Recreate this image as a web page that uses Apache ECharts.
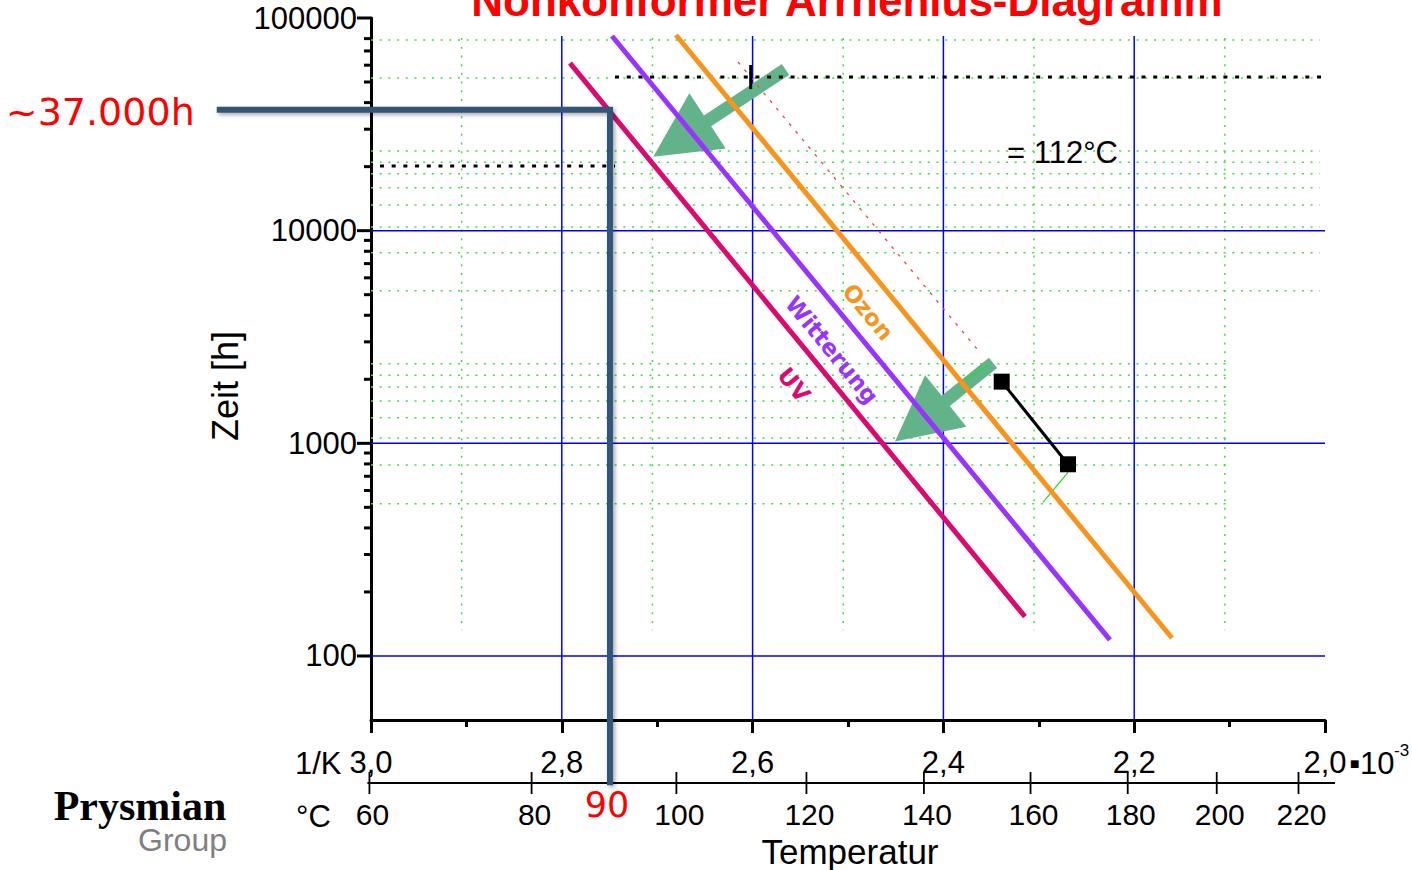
<!DOCTYPE html>
<html><head><meta charset="utf-8">
<script src="https://cdn.jsdelivr.net/npm/echarts@6/dist/echarts.min.js"></script>
<style>html,body{margin:0;padding:0;background:#fff}#c{width:1412px;height:870px}</style>
</head><body><div id="c"></div>
<script>
// ---------------- data (x: 1/K ·10^-3, y: Zeit [h]) ----------------
const seriesNames = ['UV', 'Witterung', 'Ozon'];
const uvLine = [[2.7914, 61400], [2.3145, 153]];
const witterungLine = [[2.7474, 82300], [2.2254, 119]];
const ozonLine = [[2.6803, 83200], [2.1604, 121.5]];
const labelAnchors = [[2.5566, 1883], [2.5168, 2748], [2.479, 4147]];
const timeTicks = [100, 1000, 10000, 100000];
const minorTimeTicks = [200, 300, 400, 500, 600, 700, 800, 900,
  2000, 3000, 4000, 5000, 6000, 7000, 8000, 9000,
  20000, 30000, 40000, 50000, 60000, 70000, 80000];
const celsiusTicks = [60, 80, 100, 120, 140, 160, 180, 200, 220];
const readoutPath = [[3.1617, 37000], [2.7495, 37000], [2.7495, 24.7]];
const hoursLabel = '~37.000h';
const celsiusLabel = '90';
const dottedHigh = [[2.7442, 52800], [1.9895, 52800]];
const dottedLow = [[2.9906, 20140], [2.7442, 20140]];
const markerTick = [[2.602, 60100], [2.602, 46300]];
const redDotted = [[2.6153, 62100], [2.3648, 2779]];
const blackPoints = [[2.3389, 1950], [2.2694, 797]];
const greenLine1 = [[2.2694, 731], [2.2956, 528]];
const greenLine2 = [[2.3774, 1986], [2.3532, 2337]];
const arrows = [[2.5655, 57270, 2.7041, 22280], [2.348, 2388, 2.4507, 1019]];
const noteAnchor = [[2.3333, 23190]];
const noteText = '= 112°C';
const blueGridX = [2.8, 2.6, 2.4, 2.2];
const blueGridY = [100, 1000, 10000];
const greenGridX = [2.905, 2.705, 2.505, 2.305, 2.105];
const greenGridY = [78800, 52200, 23700, 21000, 18500, 15900, 13200, 10400,
  7880, 5220, 2370, 2090, 1840, 1580, 1320, 1060, 790, 520];

// ---------------- chart ----------------
const FS = 'Liberation Sans, Arial, Helvetica, sans-serif';
const FD = 'DejaVu Sans, Verdana, sans-serif';
const lineColors = ['#dc0a6e', '#9933ff', '#f7941d'];
const lineData = [uvLine, witterungLine, ozonLine];

function seg(a, b, style) { return {type: 'line', shape: {x1: a[0], y1: a[1], x2: b[0], y2: b[1]}, style: style}; }
function cs(name, data, renderItem, z) {
  return {type: 'custom', name: name, data: data, renderItem: renderItem, silent: true, clip: false, z: z, animation: false};
}
function ls(name, data, color, width, dash, z, extra) {
  return Object.assign({type: 'line', name: name, data: data, symbol: 'none', silent: true, clip: false, animation: false,
    lineStyle: {color: color, width: width, type: dash || 'solid', cap: 'butt'}, z: z}, extra || {});
}
const greenDot = {stroke: '#3ee03e', lineWidth: 1.5, lineDash: [2, 6.7]};

const series = [];
series.push(cs('gridGreenH', greenGridY.map(v => [3.0, v]), (p, api) => {
  const v = api.value(1);
  return seg(api.coord([3.0, v]), api.coord([v > 2500 ? 2.0055 : 2.1017, v]), greenDot);
}, 1));
series.push(cs('gridGreenV', greenGridX.map(v => [v, 50]), (p, api) => {
  const v = api.value(0);
  return seg(api.coord([v, 80500]), api.coord([v, 132]), greenDot);
}, 1));
series.push(cs('gridBlueV', blueGridX.map(v => [v, 50]), (p, api) => {
  const v = api.value(0);
  return seg(api.coord([v, 82300]), api.coord([v, 50]), {stroke: '#0000ff', lineWidth: 1.5});
}, 1));
series.push(cs('gridBlueH', blueGridY.map(v => [3.0, v]), (p, api) => {
  const v = api.value(1);
  return seg(api.coord([3.0, v]), api.coord([2.0, v]), {stroke: '#0000ff', lineWidth: 1.5});
}, 1));
series.push(cs('arrows', arrows, (p, api) => {
  const t = api.coord([api.value(0), api.value(1)]), h = api.coord([api.value(2), api.value(3)]);
  const dx = h[0] - t[0], dy = h[1] - t[1], L = Math.hypot(dx, dy), ux = dx / L, uy = dy / L, nx = -uy, ny = ux;
  const H = 65, W = 33, s = 6.5;
  const bx = h[0] - ux * H, by = h[1] - uy * H;
  const pts = [[t[0] + nx * s, t[1] + ny * s], [bx + nx * s, by + ny * s], [bx + nx * W, by + ny * W], [h[0], h[1]],
    [bx - nx * W, by - ny * W], [bx - nx * s, by - ny * s], [t[0] - nx * s, t[1] - ny * s]];
  return {type: 'polygon', shape: {points: pts}, style: {fill: '#62b38a'}};
}, 2));
series.push(ls('redDotted', redDotted, '#ff3b3b', 1.3, [3, 7], 2));
series.push(ls('dottedHigh', dottedHigh, '#000', 3, [4, 7.7], 3));
series.push(ls('dottedLow', dottedLow, '#000', 3, [4, 7.7], 3));
series.push(ls('marker', markerTick, '#000', 3, 'solid', 3));
series.push(ls('green1', greenLine1, '#22dd22', 1.2, 'solid', 3));
series.push(ls('green2', greenLine2, '#22dd22', 1.2, 'solid', 3));
series.push(ls('UV', uvLine, lineColors[0], 5, 'solid', 4));
series.push(ls('Witterung', witterungLine, lineColors[1], 5, 'solid', 4));
series.push(ls('Ozon', ozonLine, lineColors[2], 5, 'solid', 4));
series.push({type: 'line', name: 'points', data: blackPoints, symbol: 'rect', symbolSize: 16, silent: true, animation: false,
  itemStyle: {color: '#000'}, lineStyle: {color: '#000', width: 3}, z: 5});
series.push(cs('lineLabels', labelAnchors, (p, api) => {
  const i = p.dataIndex, c = api.coord([api.value(0), api.value(1)]);
  const a = api.coord(lineData[i][0]), b = api.coord(lineData[i][1]);
  const ang = Math.atan2(b[1] - a[1], b[0] - a[0]);
  return {type: 'text', x: c[0], y: c[1], rotation: -ang,
    style: {text: seriesNames[i], fill: lineColors[i], fontSize: 23, fontWeight: 'bold', fontFamily: FD, align: 'center', verticalAlign: 'middle'}};
}, 5));
series.push(cs('note', noteAnchor, (p, api) => {
  const c = api.coord([api.value(0), api.value(1)]);
  return {type: 'text', x: c[0], y: c[1], style: {text: noteText, fill: '#000', fontSize: 31, fontFamily: FS, align: 'left', verticalAlign: 'middle'}};
}, 5));
// readout path (drawn through the axes' scales, allowed to leave the plot area)
series.push(cs('readout', [readoutPath[0]], (p, api) => {
  const pts = readoutPath.map(d => api.coord(d));
  return {type: 'polyline', shape: {points: pts},
    style: {stroke: '#31557a', lineWidth: 6, fill: null, lineJoin: 'miter', lineCap: 'butt',
      shadowBlur: 4, shadowColor: 'rgba(0,0,0,0.35)', shadowOffsetX: 2, shadowOffsetY: 2}};
}, 7));
series.push(cs('readoutLabels', [readoutPath[0], readoutPath[2]], (p, api) => {
  const c = api.coord([api.value(0), api.value(1)]);
  if (p.dataIndex === 0) return {type: 'text', x: c[0] - 22, y: c[1] + 2,
    style: {text: hoursLabel, fill: '#ff0000', fontSize: 38, fontFamily: FD, align: 'right', verticalAlign: 'middle'}};
  return {type: 'text', x: c[0] - 3, y: c[1] + 20,
    style: {text: celsiusLabel, fill: '#ff0000', fontSize: 35, fontFamily: FD, align: 'center', verticalAlign: 'middle'}};
}, 8));
series.push(cs('yMajorTicks', timeTicks.map(v => [3.0, v]), (p, api) => {
  const c = api.coord([3.0, api.value(1)]);
  return seg([c[0] - 14, c[1]], [c[0], c[1]], {stroke: '#000', lineWidth: 3});
}, 6));
series.push(cs('yMinorTicks', minorTimeTicks.map(v => [3.0, v]), (p, api) => {
  const c = api.coord([3.0, api.value(1)]);
  return seg([c[0] - 7, c[1]], [c[0], c[1]], {stroke: '#000', lineWidth: 3});
}, 6));
series.push(cs('celsiusAxis', celsiusTicks.map(t => [1000 / (t + 273.15), 50]), (p, api) => {
  const c = api.coord([api.value(0), 50]);
  const base = c[1] + 63;
  const kids = [seg([c[0], base - 11], [c[0], base + 11], {stroke: '#000', lineWidth: 1.8}),
    {type: 'text', x: c[0] + 3, y: base + 31,
      style: {text: String(celsiusTicks[p.dataIndex]), fill: '#000', fontSize: 30, fontFamily: FS, align: 'center', verticalAlign: 'middle'}}];
  if (p.dataIndex === 0) {
    const r = api.coord([2.0, 50]);
    kids.push(seg([c[0] - 2, base], [r[0] + 10, base], {stroke: '#000', lineWidth: 2}));
  }
  return {type: 'group', children: kids};
}, 6));

const option = {
  animation: false,
  backgroundColor: '#fff',
  grid: {left: 371, right: 87, top: 18, bottom: 150, containLabel: false},
  xAxis: {
    type: 'value', min: 2.0, max: 3.0, interval: 0.2, inverse: true, position: 'bottom',
    axisLine: {show: true, onZero: false, lineStyle: {color: '#000', width: 3}},
    axisTick: {show: true, length: 13, lineStyle: {color: '#000', width: 3}},
    minorTick: {show: true, splitNumber: 2, length: 7, lineStyle: {color: '#000', width: 3}},
    axisLabel: {margin: 42, verticalAlign: 'middle', fontSize: 31, color: '#000', fontFamily: FS,
      formatter: v => v.toFixed(1).replace('.', ',')},
    splitLine: {show: false}, minorSplitLine: {show: false}
  },
  yAxis: {
    type: 'log', logBase: 10, min: 50, max: 100000,
    axisLine: {show: true, onZero: false, lineStyle: {color: '#000', width: 3}},
    axisTick: {show: false}, splitLine: {show: false}, minorTick: {show: false},
    axisLabel: {margin: 14, fontSize: 31, color: '#000', fontFamily: FS,
      formatter: v => v >= 100 ? String(Math.round(v)) : ''}
  },
  graphic: [
    {type: 'text', x: 847, y: 0, style: {text: 'Nonkonformer Arrhenius-Diagramm', fill: '#ff0000', fontSize: 44, fontWeight: 'bold', fontFamily: FS, align: 'center', verticalAlign: 'middle'}},
    {type: 'text', x: 225, y: 386, rotation: Math.PI / 2, style: {text: 'Zeit [h]', fill: '#000', fontSize: 36, fontFamily: FS, align: 'center', verticalAlign: 'middle'}},
    {type: 'text', x: 850, y: 851, style: {text: 'Temperatur', fill: '#000', fontSize: 35, fontFamily: FS, align: 'center', verticalAlign: 'middle'}},
    {type: 'text', x: 295, y: 763, style: {text: '1/K', fill: '#000', fontSize: 31, fontFamily: FS, align: 'left', verticalAlign: 'middle'}},
    {type: 'text', x: 296, y: 816, style: {text: '°C', fill: '#000', fontSize: 31, fontFamily: FS, align: 'left', verticalAlign: 'middle'}},
    {type: 'text', x: 1349, y: 763, style: {text: '▪10', fill: '#000', fontSize: 31, fontFamily: FS, align: 'left', verticalAlign: 'middle'}},
    {type: 'text', x: 1394, y: 750, style: {text: '-3', fill: '#000', fontSize: 17, fontFamily: FS, align: 'left', verticalAlign: 'middle'}},
    {type: 'text', x: 140, y: 806, style: {text: 'Prysmian', fill: '#000', fontSize: 42, fontWeight: 'bold', fontFamily: 'Liberation Serif, Times New Roman, serif', align: 'center', verticalAlign: 'middle'}},
    {type: 'text', x: 227, y: 840, style: {text: 'Group', fill: '#808080', fontSize: 32, fontFamily: FS, align: 'right', verticalAlign: 'middle'}}
  ],
  series: series
};
const chart = echarts.init(document.getElementById('c'), null, {renderer: 'svg', width: 1412, height: 870});
chart.setOption(option);
</script>
</body></html>
